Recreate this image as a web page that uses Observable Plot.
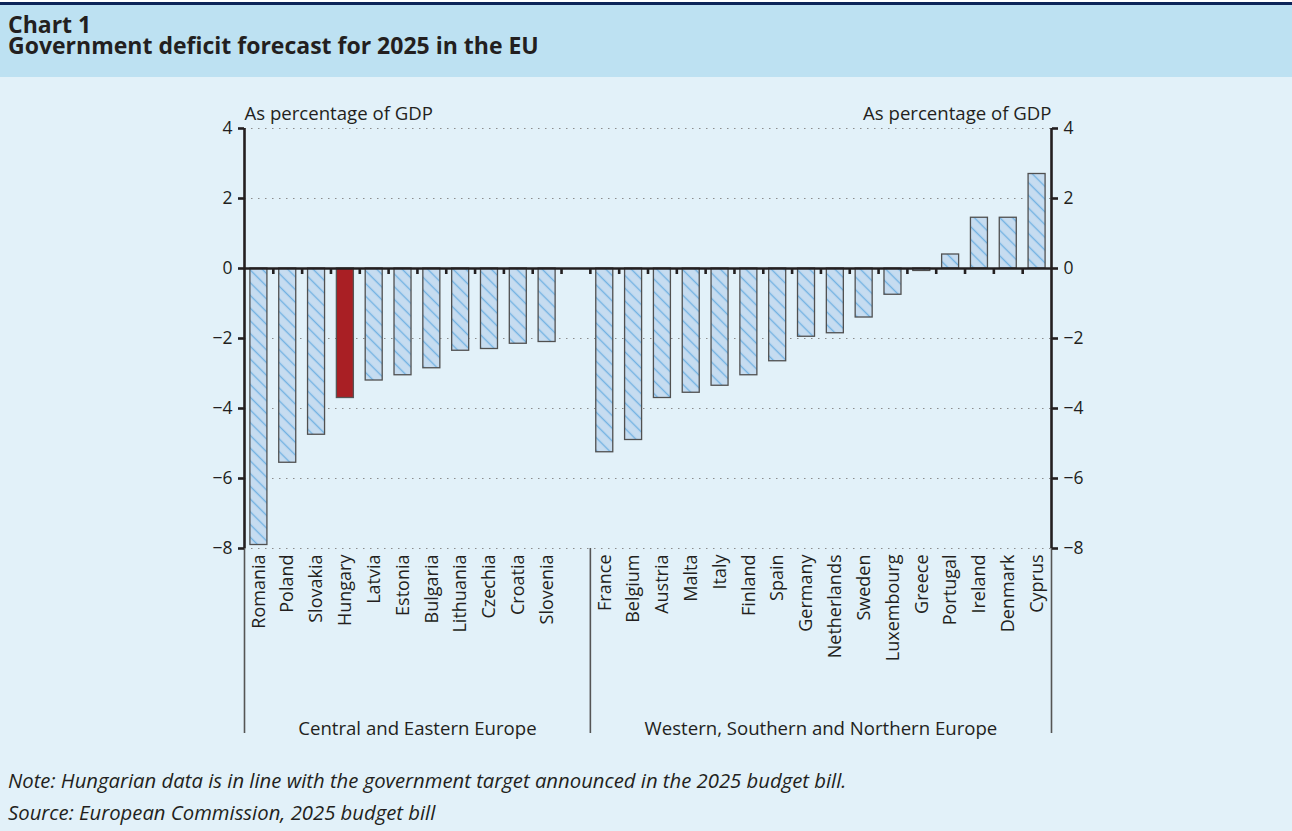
<!DOCTYPE html>
<html>
<head>
<meta charset="utf-8">
<script src="https://cdn.jsdelivr.net/npm/d3@7"></script>
<script src="https://cdn.jsdelivr.net/npm/@observablehq/plot@0.6"></script>
<style>
  html, body { margin: 0; padding: 0; }
  body { background: #e2f1f9; font-family: "Open Sans", Lato, sans-serif; color: #231f20; width: 1292px; overflow: hidden; }
  #topgap { height: 2px; background: #ffffff; }
  #toprule { height: 3px; background: #0c2458; }
  #header { height: 72px; background: #bde1f2; box-sizing: border-box; padding: 9px 0 0 8px; }
  #header div { font-weight: 700; font-size: 23px; line-height: 21px; white-space: nowrap; }
  #chart svg { display: block; }
  #caption { box-sizing: border-box; padding: 12px 0 0 8px; font-style: italic; font-size: 20.3px; line-height: 32px; }
</style>
</head>
<body>
<div id="topgap"></div>
<div id="toprule"></div>
<div id="header">
  <div id="t1"></div>
  <div id="t2"></div>
</div>
<div id="chart"></div>
<div id="caption">
  <div id="note"></div>
  <div id="source"></div>
</div>
<script>
// ---------- data ----------
const titleLine1 = "Chart 1";
const titleLine2 = "Government deficit forecast for 2025 in the EU";
const unitLabel = "As percentage of GDP";
const noteText = "Note: Hungarian data is in line with the government target announced in the 2025 budget bill.";
const sourceText = "Source: European Commission, 2025 budget bill";

const ceeCountries = ["Romania", "Poland", "Slovakia", "Hungary", "Latvia", "Estonia", "Bulgaria", "Lithuania", "Czechia", "Croatia", "Slovenia"];
const ceeValues    = [-7.9, -5.55, -4.75, -3.7, -3.2, -3.05, -2.85, -2.35, -2.3, -2.15, -2.1];

const wsneCountries = ["France", "Belgium", "Austria", "Malta", "Italy", "Finland", "Spain", "Germany", "Netherlands", "Sweden", "Luxembourg", "Greece", "Portugal", "Ireland", "Denmark", "Cyprus"];
const wsneValues    = [-5.25, -4.9, -3.7, -3.55, -3.35, -3.05, -2.65, -1.95, -1.85, -1.4, -0.75, -0.07, 0.4, 1.45, 1.45, 2.7];

const groupNames = ["Central and Eastern Europe", "Western, Southern and Northern Europe"];
const highlighted = "Hungary";
const yTicks = [4, 2, 0, -2, -4, -6, -8];
const gapKey = "\u2002"; // empty slot between the two groups

// ---------- build ----------
document.getElementById("t1").textContent = titleLine1;
document.getElementById("t2").textContent = titleLine2;
document.getElementById("note").textContent = noteText;
document.getElementById("source").textContent = sourceText;

const rows = [
  ...ceeCountries.map((c, i) => ({country: c, value: ceeValues[i]})),
  ...wsneCountries.map((c, i) => ({country: c, value: wsneValues[i]}))
];
const domainX = [...ceeCountries, gapKey, ...wsneCountries];
const groups = [
  {label: groupNames[0], members: [...ceeCountries, gapKey]},
  {label: groupNames[1], members: wsneCountries}
].map(g => ({label: g.label, key: g.members[g.members.length / 2 - 1]}));

const W = 1292, H = 675;
const mL = 244, mR = 241, mT = 51, mB = 204;
const step = (W - mL - mR) / domainX.length;
const below = 185; // extension of the vertical separators below the frame
const ink = "#231f20";
const font = "'Open Sans', Lato, sans-serif";

const chart = Plot.plot({
  width: W,
  height: H,
  marginLeft: mL,
  marginRight: mR,
  marginTop: mT,
  marginBottom: mB,
  style: {background: "transparent", color: ink, fontFamily: font, fontSize: "17.5px", overflow: "visible"},
  x: {domain: domainX, paddingInner: 0.41, paddingOuter: 0.205, round: false, axis: null},
  y: {domain: [-8, 4], axis: null},
  marks: [
    // dotted gridlines
    Plot.ruleY(yTicks.filter(d => d !== 0), {stroke: "#8c8c8c", strokeWidth: 1.2, strokeDasharray: "1.5,5.5"}),
    // bars
    Plot.barY(rows.filter(d => d.country !== highlighted), {x: "country", y: "value", fill: "url(#hatch)", stroke: "#505050", strokeWidth: 1.3}),
    Plot.barY(rows.filter(d => d.country === highlighted), {x: "country", y: "value", fill: "#a91f24", stroke: "#555555", strokeWidth: 1.3}),
    // zero line
    Plot.ruleY([0], {stroke: ink, strokeWidth: 2.6}),
    // slot ticks on zero line
    Plot.ruleX(domainX.slice(0, -1), {x: d => d, y1: 0, y2: 0, dx: step / 2, insetBottom: -6, stroke: ink, strokeWidth: 2.6}),
    // left & right axis lines
    Plot.ruleX([domainX[0]], {x: d => d, y1: 4, y2: -8, dx: -step / 2, stroke: ink, strokeWidth: 2.6}),
    Plot.ruleX([domainX[domainX.length - 1]], {x: d => d, y1: 4, y2: -8, dx: step / 2, stroke: ink, strokeWidth: 2.6}),
    // separators below the frame
    Plot.ruleX([domainX[0]], {x: d => d, y1: -8, y2: -8, dx: -step / 2, insetBottom: -below, stroke: "#555555", strokeWidth: 1.6}),
    Plot.ruleX([gapKey], {x: d => d, y1: -8, y2: -8, dx: step / 2, insetBottom: -below, stroke: "#555555", strokeWidth: 1.6}),
    Plot.ruleX([domainX[domainX.length - 1]], {x: d => d, y1: -8, y2: -8, dx: step / 2, insetBottom: -below, stroke: "#555555", strokeWidth: 1.6}),
    // axes
    Plot.axisY({anchor: "left", ticks: yTicks, tickSize: 6, tickPadding: 6, strokeWidth: 2.6, color: ink, fontSize: 17.5, label: null}),
    Plot.axisY({anchor: "right", ticks: yTicks, tickSize: 6, tickPadding: 6, strokeWidth: 2.6, color: ink, fontSize: 17.5, label: null}),
    Plot.axisX({anchor: "bottom", tickSize: 0, tickPadding: 6, tickRotate: -90, color: ink, fontSize: 18, label: null,
                tickFormat: d => (d === gapKey ? "" : d)}),
    // unit labels
    Plot.text([unitLabel], {frameAnchor: "top-left", textAnchor: "start", dy: -22, fontSize: 18.6, fill: ink}),
    Plot.text([unitLabel], {frameAnchor: "top-right", textAnchor: "end", dy: -22, fontSize: 18.6, fill: ink}),
    // group labels
    Plot.text(groups, {x: "key", y: () => -8, text: "label", dx: step / 2, dy: 181, fontSize: 18.6, fill: ink})
  ]
});

const svgEl = chart.tagName.toLowerCase() === "svg" ? chart : chart.querySelector("svg");
d3.select(svgEl).insert("defs", ":first-child").html(
  '<pattern id="hatch" patternUnits="userSpaceOnUse" width="9" height="9" patternTransform="rotate(-45)">' +
  '<rect width="9" height="9" fill="#c6dcf0"></rect>' +
  '<line x1="4.5" y1="-1" x2="4.5" y2="10" stroke="#72b2e2" stroke-width="1.4"></line>' +
  '</pattern>'
);
document.getElementById("chart").appendChild(chart);
</script>
</body>
</html>
